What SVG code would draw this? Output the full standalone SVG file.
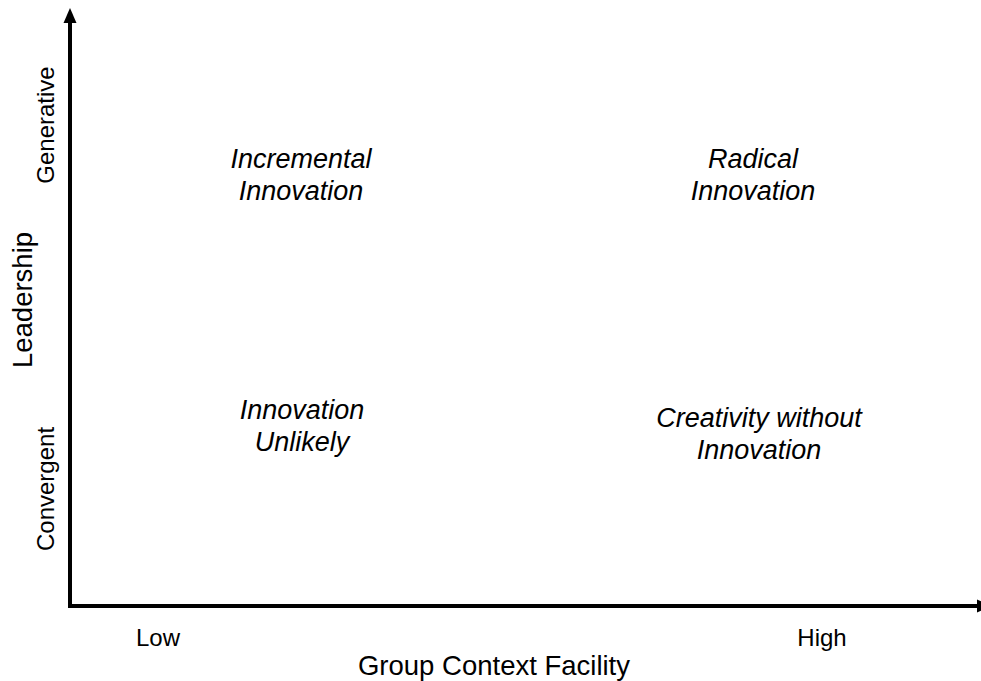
<svg xmlns="http://www.w3.org/2000/svg" width="981" height="681" viewBox="0 0 981 681">
<style>
.axis{stroke:#000;stroke-width:4;fill:none}
.head{fill:#000}
.q{font-family:"Liberation Sans",Arial,sans-serif;font-style:italic;font-size:27px;fill:#000;text-anchor:middle}
.t{font-family:"Liberation Sans",Arial,sans-serif;font-size:24px;fill:#000;text-anchor:middle}
.ax{font-family:"Liberation Sans",Arial,sans-serif;font-size:27.5px;fill:#000;text-anchor:middle}
</style>
<rect width="981" height="681" fill="#fff"/>
<g id="connectors">
<line class="axis" x1="70" y1="608" x2="70" y2="20"/>
<polygon class="head" points="70,8 63.5,23 76.5,23"/>
<line class="axis" x1="68" y1="606" x2="979" y2="606"/>
<polygon class="head" points="991,606 977,599.5 977,612.5"/>
</g>
<g id="q-incremental"><text class="q" x="301" y="168">Incremental</text><text class="q" x="301" y="200">Innovation</text></g>
<g id="q-radical"><text class="q" x="753" y="168">Radical</text><text class="q" x="753" y="200">Innovation</text></g>
<g id="q-unlikely"><text class="q" x="302" y="419">Innovation</text><text class="q" x="302" y="451">Unlikely</text></g>
<g id="q-creativity"><text class="q" x="759" y="427">Creativity without</text><text class="q" x="759" y="459">Innovation</text></g>
<g id="y-labels">
<text class="t" transform="translate(54,125) rotate(-90)">Generative</text>
<text class="t" transform="translate(54,489) rotate(-90)">Convergent</text>
<text class="ax" transform="translate(32,300) rotate(-90)">Leadership</text>
</g>
<g id="x-labels">
<text class="t" x="158" y="646">Low</text>
<text class="t" x="822" y="646">High</text>
<text class="ax" x="494" y="675">Group Context Facility</text>
</g>
</svg>
